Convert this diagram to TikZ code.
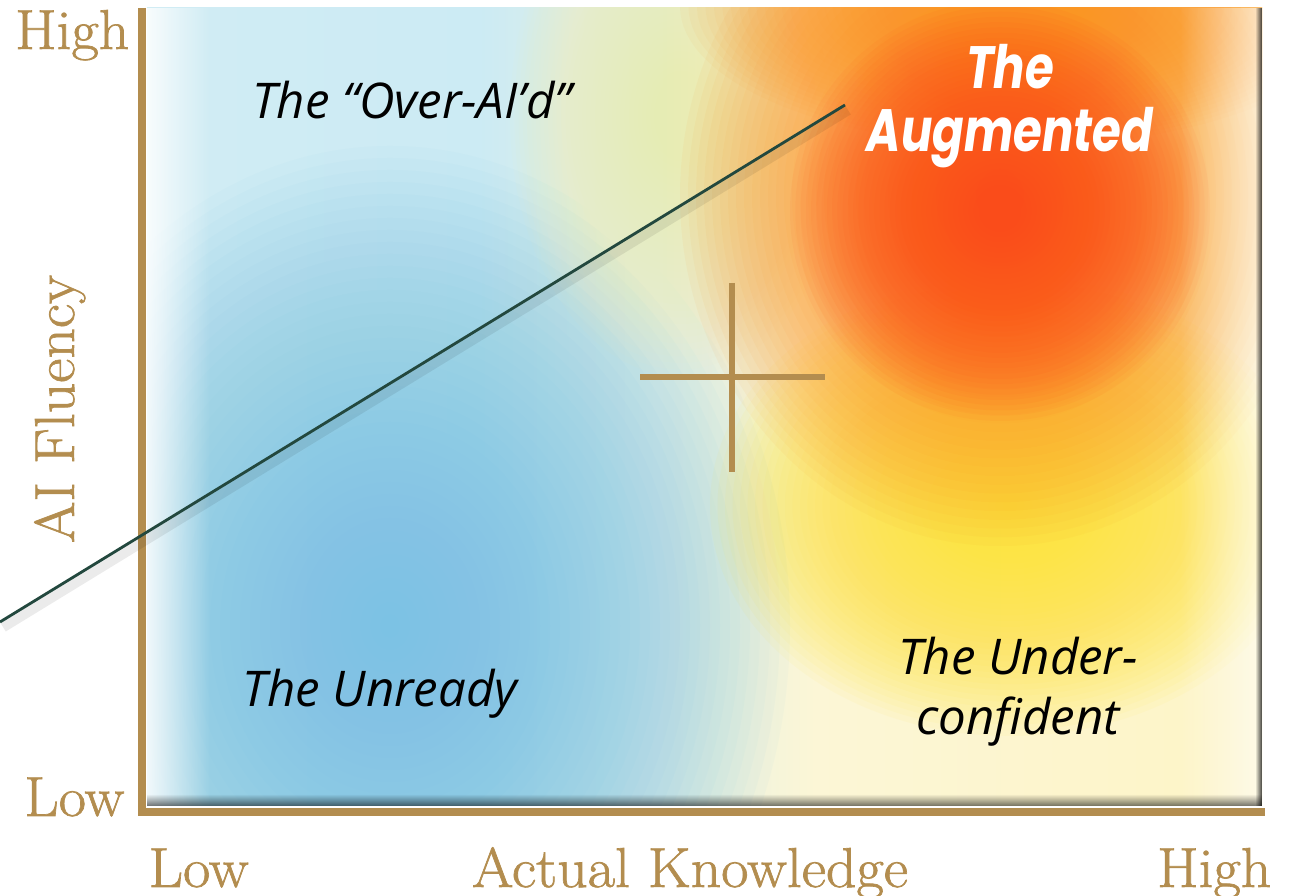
\documentclass[tikz,border=0pt]{standalone}
\usepackage{fontspec}
\usetikzlibrary{fadings}
\newfontfamily\goldfont[FakeBold=1.2, FakeStretch=1.06]{Latin Modern Roman}
\newfontfamily\quadfont{Open Sans}
\newfontfamily\augfont[FakeStretch=0.78]{Poppins}
\definecolor{axisgold}{RGB}{179,141,79}
\definecolor{deepsky}{RGB}{118,194,228}
\definecolor{butter}{RGB}{252,236,180}
\definecolor{hotorange}{RGB}{250,150,35}
\definecolor{redorange}{RGB}{255,76,26}
\definecolor{sunyellow}{RGB}{255,228,55}
\definecolor{slateline}{RGB}{35,72,62}
% pale blue -> cream -> pale yellow
\pgfdeclarehorizontalshading{panelbase}{100bp}{rgb(0bp)=(0.85,0.94,0.96); rgb(40bp)=(0.80,0.92,0.955); rgb(55bp)=(0.988,0.965,0.839); rgb(100bp)=(1,0.949,0.698)}
\tikzfading[name=fromleft, left color=transparent!0, right color=transparent!100]
\tikzfading[name=fromright, right color=transparent!0, left color=transparent!100]
\tikzfading[name=frombottom, bottom color=transparent!0, top color=transparent!100]
% soft colour cloud: stacked thin ellipses
\newcommand{\softblob}[5]{%
  \foreach \k in {1,...,40} {
    \fill[#1, opacity=#5] #2 ellipse ({#3*\k/40} and {#4*\k/40}) ;
  }}
\tikzset{
  goldlab/.style={text=axisgold, inner sep=0pt, font=\goldfont\fontsize{16}{18}\selectfont},
  quadlab/.style={text=black, inner sep=0pt, font=\quadfont\itshape\fontsize{14}{17}\selectfont},
  auglab/.style={text=white, inner sep=0pt, font=\augfont\bfseries\itshape\fontsize{17}{18}\selectfont},
  axisline/.style={axisgold, line width=2pt},
  crossline/.style={axisgold, line width=1.7pt},
  trend/.style={slateline, line width=0.8pt}
}

\begin{document}
\begin{tikzpicture}
        \useasboundingbox (0,0) rectangle (12.99,8.96) ;
        % the coloured panel
        \begin{scope}
          \clip (1.47,0.90) rectangle (12.62,8.88) ;
          \shade[shading=panelbase] (1.47,0.90) rectangle (12.62,8.88) ;
          \softblob{deepsky}{(3.9,2.7)}{4.0}{4.8}{.045}
          \softblob{butter}{(6.8,7.8)}{1.7}{2.6}{.045}
          \softblob{sunyellow}{(10.1,3.9)}{3.0}{2.3}{.06}
          \softblob{hotorange}{(10.0,7.0)}{3.2}{3.5}{.06}
          \softblob{hotorange}{(10.2,8.9)}{3.4}{1.4}{.05}
          \softblob{redorange}{(10.0,6.85)}{2.1}{2.1}{.06}
          \fill[white, opacity=.85, path fading=fromleft] (1.47,0.90) rectangle (2.10,8.88) ;
          \fill[white, opacity=.6, path fading=fromright] (11.80,0.90) rectangle (12.62,8.88) ;
          \fill[black, opacity=.55, path fading=frombottom] (1.47,0.90) rectangle (12.62,1.02) ;
          \fill[black, opacity=.75, path fading=fromright] (12.55,0.90) rectangle (12.62,8.88) ;
        \end{scope}
        % axes
        \coordinate (origin) at (1.42,0.84) ;
        \coordinate (ytop) at (1.42,8.88) ;
        \coordinate (xend) at (12.65,0.84) ;
        \draw[axisline] (ytop) -- (origin) -- (xend) ;
        % trend line
        \coordinate (trendlow) at (0,2.74) ;
        \coordinate (trendhigh) at (8.45,7.91) ;
        \draw[black, opacity=.08, line width=3pt] ([shift={(0.03,-0.05)}]trendlow) -- ([shift={(0.03,-0.05)}]trendhigh) ;
        \draw[trend] (trendlow) -- (trendhigh) ;
        % centre cross
        \coordinate (mid) at (7.32,5.19) ;
        \draw[crossline] ([yshift=0.94cm]mid) -- ([yshift=-0.95cm]mid) ;
        \draw[crossline] ([xshift=-0.92cm]mid) -- ([xshift=0.93cm]mid) ;
        % axis labels
        \node[goldlab, anchor=base east] (yhigh) at (1.30,8.47) {High} ;
        \node[goldlab, anchor=base east] (ylow) at (1.25,0.80) {Low} ;
        \node[goldlab, anchor=base, rotate=90] (ytitle) at (0.74,4.87) {AI Fluency} ;
        \node[goldlab, anchor=base west] (xlow) at (1.48,0.09) {Low} ;
        \node[goldlab, anchor=base] (xtitle) at (6.90,0.09) {Actual Knowledge} ;
        \node[goldlab, anchor=base east] (xhigh) at (12.72,0.09) {High} ;
        % quadrants
        \node[quadlab, anchor=base] (overaid) at (4.12,7.77) {The “Over-AI’d”} ;
        \node[quadlab, anchor=base] (unready) at (3.80,1.89) {The Unready} ;
        \node[quadlab, align=center] (underconf) at (10.18,2.04) {The Under-\\confident} ;
        \node[auglab, align=center] (augmented) at (10.10,7.90) {The\\Augmented} ;
\end{tikzpicture}
\end{document}
